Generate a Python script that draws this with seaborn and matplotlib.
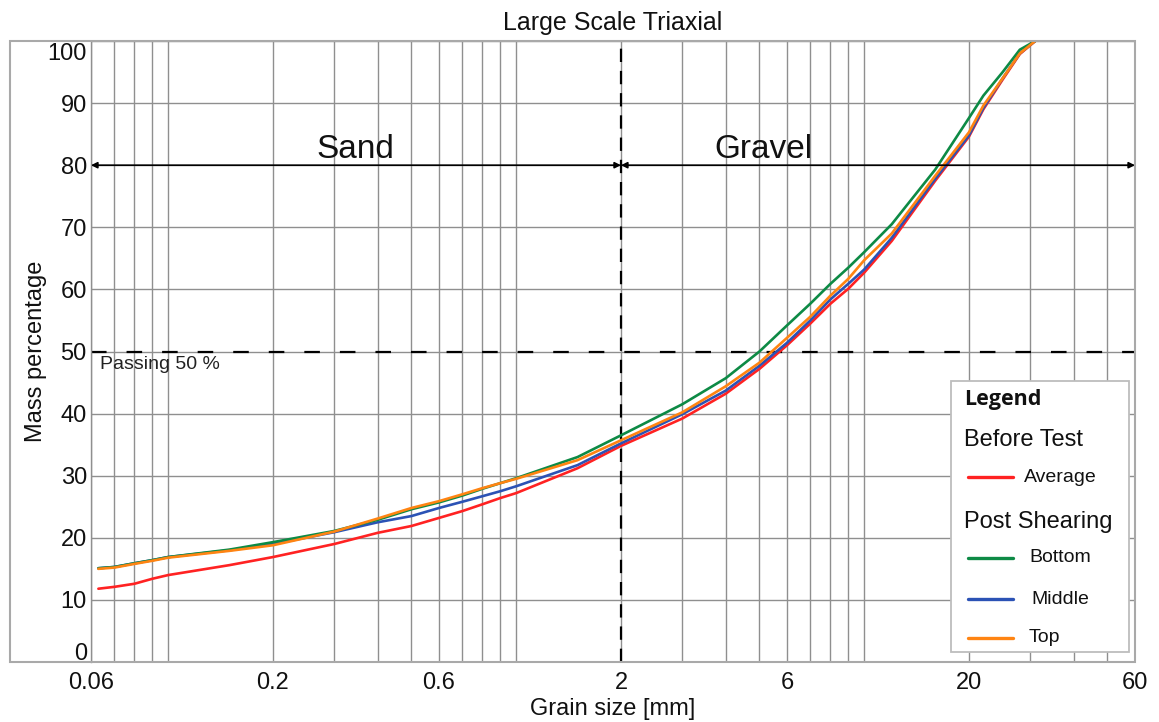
import numpy as np
import pandas as pd
import matplotlib
matplotlib.use("Agg")
import matplotlib.pyplot as plt
from matplotlib.patches import Rectangle
from matplotlib.lines import Line2D
from matplotlib.ticker import FixedLocator, LogLocator, NullFormatter, FixedFormatter
from matplotlib.transforms import ScaledTranslation
import seaborn as sns

# ---- sieve data: percentage passing by grain size ----
grain_size_mm = [0.063, 0.07, 0.08, 0.09, 0.1, 0.15, 0.2, 0.3, 0.4, 0.5, 0.6, 0.7,
                 0.8, 0.9, 1.0, 1.5, 2, 3, 4, 5, 6, 7, 8, 9, 10, 12, 16, 20, 22,
                 25, 28, 31]
before_average = [11.8, 12.1, 12.6, 13.4, 14.0, 15.6, 16.9, 19.0, 20.8, 21.9, 23.2,
                  24.3, 25.4, 26.4, 27.2, 31.2, 34.8, 39.2, 43.2, 47.2, 51.0, 54.5,
                  57.7, 60.1, 62.7, 67.8, 77.5, 84.6, 89.0, 93.8, 97.9, 100]
post_bottom = [15.1, 15.3, 15.9, 16.4, 16.9, 18.1, 19.3, 21.1, 22.9, 24.6, 25.7,
               26.8, 27.9, 28.8, 29.6, 33.0, 36.5, 41.5, 45.7, 50.0, 54.2, 57.7,
               60.9, 63.5, 66.0, 70.5, 79.3, 87.6, 91.2, 95.0, 98.6, 100]
post_middle = [15.1, 15.3, 15.9, 16.4, 16.9, 18.0, 19.0, 20.9, 22.5, 23.5, 24.8,
               25.8, 26.7, 27.5, 28.3, 31.7, 35.2, 39.9, 43.7, 47.7, 51.4, 55.0,
               58.4, 60.9, 63.2, 68.3, 77.8, 84.8, 89.2, 94.0, 98.0, 100]
post_top = [15.0, 15.2, 15.8, 16.3, 16.8, 17.9, 18.8, 21.0, 23.1, 24.8, 25.9,
            27.0, 28.0, 28.8, 29.5, 32.5, 35.7, 40.2, 44.4, 48.2, 52.2, 55.6,
            59.0, 61.7, 64.7, 69.0, 78.3, 85.3, 89.6, 94.0, 98.0, 100]

series_names = ["Average", "Middle", "Bottom", "Top"]
series_colors = {"Average": "#ff2222", "Bottom": "#0d8a45",
                 "Middle": "#2b52b5", "Top": "#ff8412"}

x_tick_values = [0.06, 0.2, 0.6, 2, 6, 20, 60]
x_tick_labels = ["0.06", "0.2", "0.6", "2", "6", "20", "60"]
y_tick_values = list(range(0, 101, 10))

frames = []
for name, vals in zip(["Average", "Bottom", "Middle", "Top"],
                      [before_average, post_bottom, post_middle, post_top]):
    frames.append(pd.DataFrame({"size": grain_size_mm, "passing": vals, "series": name}))
df = pd.concat(frames, ignore_index=True)

# ---- style ----
sns.set_theme(style="white")
plt.rcParams["font.family"] = ["Liberation Sans", "DejaVu Sans"]

W, H = 1159, 722
fig = plt.figure(figsize=(W / 100, H / 100), dpi=100)


def fx(px):
    return px / W


def fy(py):
    return 1 - py / H


ax = fig.add_axes([fx(91), fy(662), fx(1135) - fx(91), fy(41) - fy(662)])
ax.set_xscale("log")

sns.lineplot(data=df, x="size", y="passing", hue="series", hue_order=series_names,
             palette=series_colors, estimator=None, sort=False, legend=False,
             linewidth=1.9, ax=ax)

ax.set_xlim(0.06, 60)
ax.set_ylim(0, 100)

# ticks and grid
ax.xaxis.set_major_locator(FixedLocator(x_tick_values))
ax.xaxis.set_major_formatter(FixedFormatter(x_tick_labels))
ax.xaxis.set_minor_locator(LogLocator(base=10, subs=np.arange(1, 10)))
ax.xaxis.set_minor_formatter(NullFormatter())
ax.set_yticks(y_tick_values)
ax.tick_params(axis="both", which="both", length=0, labelsize=17, colors="#111111")
ax.tick_params(axis="x", pad=7)
ax.tick_params(axis="y", pad=3)

grid_color = "#8f8f8f"
ax.grid(True, which="both", axis="x", color=grid_color, lw=1.0)
ax.grid(True, which="major", axis="y", color=grid_color, lw=1.0)
ax.set_axisbelow(True)
for side in ["top", "right", "bottom"]:
    ax.spines[side].set_visible(False)
ax.spines["left"].set_color(grid_color)
ax.spines["left"].set_linewidth(1.0)

# keep the end labels of the y axis inside the frame
for lab, val in zip(ax.get_yticklabels(), y_tick_values):
    if val == 100:
        lab.set_transform(lab.get_transform() + ScaledTranslation(0, -11 / 100, fig.dpi_scale_trans))
    elif val == 0:
        lab.set_transform(lab.get_transform() + ScaledTranslation(0, 10 / 100, fig.dpi_scale_trans))

ax.set_xlabel("Grain size [mm]", fontsize=17, labelpad=3, color="#111111")
ax.set_ylabel("Mass percentage", fontsize=17, labelpad=0, color="#111111")
ax.set_title("Large Scale Triaxial", fontsize=18, pad=8, color="#111111")

# reference lines
ax.axvline(2, color="black", lw=1.6, ls=(0, (6, 4)), zorder=1.5)
ax.axhline(50, color="black", lw=1.6, ls=(0, (7, 9)), zorder=1.5)
ax.text(0.0637, 49.3, "Passing 50 %", fontsize=14, ha="left", va="top", color="#222222")

# soil class ranges
arrow_kw = dict(arrowstyle="<|-|>", color="black", lw=1.2, shrinkA=0, shrinkB=0,
                mutation_scale=9)
ax.annotate("", xy=(0.06, 80), xytext=(2, 80), arrowprops=arrow_kw, annotation_clip=False)
ax.annotate("", xy=(2, 80), xytext=(60, 80), arrowprops=arrow_kw, annotation_clip=False)
ax.text(0.346, 81.2, "Sand", fontsize=24, ha="center", va="baseline", color="#111111")
ax.text(5.15, 81.2, "Gravel", fontsize=24, ha="center", va="baseline", color="#111111")

# outer frame
fig.add_artist(Rectangle((fx(10), fy(662)), fx(1135) - fx(10), fy(41) - fy(662),
                         transform=fig.transFigure, fill=False, edgecolor="#a9a9a9",
                         lw=1.5, zorder=2))

# legend panel
fig.add_artist(Rectangle((fx(951), fy(652)), fx(1129) - fx(951), fy(381) - fy(652),
                         transform=fig.transFigure, facecolor="white", edgecolor="#bdbdbd",
                         lw=1.3, zorder=3))
fig.text(fx(964), fy(399), "Legend", fontsize=15.5, fontweight="bold", va="center",
         ha="left", family=["Open Sans", "DejaVu Sans"], zorder=4, color="#111111")
fig.text(fx(964), fy(440), "Before Test", fontsize=17, va="center", ha="left", zorder=4,
         color="#111111")
fig.text(fx(964), fy(522), "Post Shearing", fontsize=17, va="center", ha="left", zorder=4,
         color="#111111")
entries = [("Average", 1024, 477), ("Bottom", 1029, 558), ("Middle", 1031, 599),
           ("Top", 1029, 638)]
for name, tx, ty in entries:
    fig.add_artist(Line2D([fx(968), fx(1013)], [fy(ty), fy(ty)], transform=fig.transFigure,
                          color=series_colors[name], lw=2.4, zorder=4))
    fig.text(fx(tx), fy(ty), name, fontsize=14, va="center", ha="left", zorder=4,
             color="#111111")

fig.savefig("out.png", dpi=100)
